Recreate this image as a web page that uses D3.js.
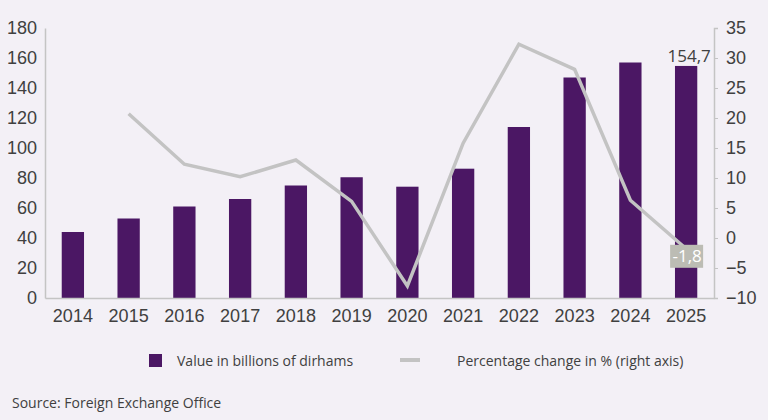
<!DOCTYPE html>
<html><head><meta charset="utf-8">
<script src="https://cdn.jsdelivr.net/npm/d3@7"></script>
<style>
html,body{margin:0;padding:0;background:#f3f0f6;}
svg{display:block;font-family:"Open Sans",sans-serif;}
</style></head><body>
<svg id="c" width="768" height="420"></svg>
<script>
const years = ["2014","2015","2016","2017","2018","2019","2020","2021","2022","2023","2024","2025"];
const values = [44, 53, 61, 66, 75, 80.5, 74.2, 86.2, 114, 147, 157, 154.7];
const pctChange = [null, 20.7, 12.3, 10.2, 13, 6.1, -8, 15.8, 32.3, 28.1, 6.3, -1.8];
const leftTicks = [0,20,40,60,80,100,120,140,160,180];
const rightTicks = [-10,-5,0,5,10,15,20,25,30,35];
const legendLabels = ["Value in billions of dirhams","Percentage change in % (right axis)"];
const sourceText = "Source: Foreign Exchange Office";

const svg = d3.select("#c");
const m = {l:45, r:54, t:28, b:122};
const W = 768, H = 420;
const x = d3.scaleBand().domain(years).range([m.l, W-m.r]).paddingInner(0.6).paddingOuter(0.3);
const yL = d3.scaleLinear().domain([0,180]).range([H-m.b, m.t]);
const yR = d3.scaleLinear().domain([-10,35]).range([H-m.b, m.t]);
const textCol = "#404040", axisCol = "#c4c4c4";

svg.append("rect").attr("width",W).attr("height",H).attr("fill","#f3f0f6");

// bars
svg.append("g").selectAll("rect").data(years).join("rect")
  .attr("x", d=>x(d)).attr("width", x.bandwidth())
  .attr("y", (d,i)=>yL(values[i])).attr("height",(d,i)=>yL(0)-yL(values[i]))
  .attr("fill","#4b1764");

// left axis
const gl = svg.append("g").attr("transform",`translate(${m.l},0)`)
  .call(d3.axisLeft(yL).tickValues(leftTicks).tickSize(0).tickPadding(8));
gl.select(".domain").attr("stroke",axisCol).attr("stroke-width",1.5);
gl.selectAll("text").attr("fill",textCol).style("font-size","18px");

// right axis
const gr = svg.append("g").attr("transform",`translate(${W-m.r},0)`)
  .call(d3.axisRight(yR).tickValues(rightTicks).tickSize(4).tickPadding(8));
gr.select(".domain").attr("stroke",axisCol).attr("stroke-width",1.5);
gr.selectAll("line").attr("stroke",axisCol);
gr.selectAll("text").attr("fill",textCol).style("font-size","18px");

// bottom axis
const gb = svg.append("g").attr("transform",`translate(0,${H-m.b})`)
  .call(d3.axisBottom(x).tickSize(0).tickPadding(11));
gb.select(".domain").attr("stroke",axisCol).attr("stroke-width",1.5);
gb.selectAll("text").attr("fill",textCol).style("font-size","18px");

// line
const pts = years.map((d,i)=>({y:d, v:pctChange[i]})).filter(p=>p.v!==null);
svg.append("path").datum(pts)
  .attr("d", d3.line().x(p=>x(p.y)+x.bandwidth()/2).y(p=>yR(p.v)))
  .attr("fill","none").attr("stroke","#c3c3c3").attr("stroke-width",3.5);

// labels
const last = years.length-1;
const cx = x(years[last])+x.bandwidth()/2;
svg.append("text").attr("x",cx+3).attr("y",yL(values[last])-4)
  .attr("text-anchor","middle").attr("fill",textCol).style("font-size","17px")
  .text(String(values[last]).replace(".",","));
const ly = yR(pctChange[last]) - 4;
svg.append("rect").attr("x",cx-16).attr("y",ly).attr("width",33).attr("height",23).attr("fill","#bcbcb4");
svg.append("text").attr("x",cx+1).attr("y",ly+17.5).attr("text-anchor","middle")
  .attr("fill","#ffffff").style("font-size","17px").text(String(pctChange[last]).replace(".",","));

// legend
const lg = svg.append("g");
lg.append("rect").attr("x",149).attr("y",354).attr("width",13).attr("height",13).attr("fill","#4b1764");
lg.append("text").attr("x",177).attr("y",365.5).attr("fill",textCol).style("font-size","14px").text(legendLabels[0]);
lg.append("line").attr("x1",400).attr("x2",420).attr("y1",360).attr("y2",360).attr("stroke","#c3c3c3").attr("stroke-width",4);
lg.append("text").attr("x",457).attr("y",365.5).attr("fill",textCol).style("font-size","14px").text(legendLabels[1]);

svg.append("text").attr("x",12).attr("y",408).attr("fill",textCol).style("font-size","14px").text(sourceText);
</script></body></html>
